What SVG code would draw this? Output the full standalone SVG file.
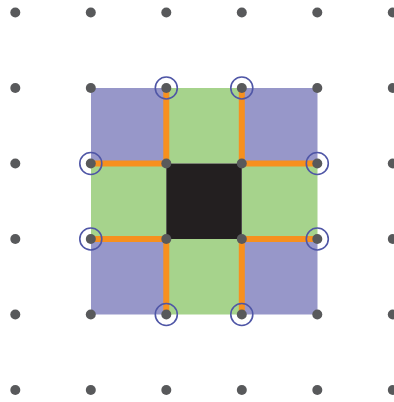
<svg xmlns="http://www.w3.org/2000/svg" width="394" height="402" viewBox="0 0 394 402">
<style>
.p{fill:#9797c9}.g{fill:#a6d38c}.k{fill:#231f20}
.d{fill:#58595b}
.c{fill:none;stroke:#4f56a6;stroke-width:1.6}
.o{stroke:#f7901e;stroke-width:6;fill:none}
</style>
<rect width="394" height="402" fill="#ffffff"/>
<g id="tiles">
<rect class="p" x="91" y="88" width="75.5" height="75.5"/>
<rect class="g" x="166.5" y="88" width="75.5" height="75.5"/>
<rect class="p" x="242" y="88" width="75.5" height="75.5"/>
<rect class="g" x="91" y="163.5" width="75.5" height="75.5"/>
<rect class="g" x="242" y="163.5" width="75.5" height="75.5"/>
<rect class="p" x="91" y="239" width="75.5" height="75.5"/>
<rect class="g" x="166.5" y="239" width="75.5" height="75.5"/>
<rect class="p" x="242" y="239" width="75.5" height="75.5"/>
</g>
<g id="center"><rect class="k" x="166.3" y="163.5" width="75.5" height="75.5"/></g>
<g id="connectors">
<path class="o" d="M166.3 88V163.5H91"/>
<path class="o" d="M241.8 88V163.5H317.5"/>
<path class="o" d="M166.3 314.5V239H91"/>
<path class="o" d="M241.8 314.5V239H317.5"/>
</g>
<g id="dots">
<circle class="d" cx="15.3" cy="12.5" r="5"/><circle class="d" cx="90.8" cy="12.5" r="5"/><circle class="d" cx="166.3" cy="12.5" r="5"/><circle class="d" cx="241.8" cy="12.5" r="5"/><circle class="d" cx="317.3" cy="12.5" r="5"/><circle class="d" cx="392.8" cy="12.5" r="5"/>
<circle class="d" cx="15.3" cy="88" r="5"/><circle class="d" cx="90.8" cy="88" r="5"/><circle class="d" cx="166.3" cy="88" r="5"/><circle class="d" cx="241.8" cy="88" r="5"/><circle class="d" cx="317.3" cy="88" r="5"/><circle class="d" cx="392.8" cy="88" r="5"/>
<circle class="d" cx="15.3" cy="163.5" r="5"/><circle class="d" cx="90.8" cy="163.5" r="5"/><circle class="d" cx="166.3" cy="163.5" r="5"/><circle class="d" cx="241.8" cy="163.5" r="5"/><circle class="d" cx="317.3" cy="163.5" r="5"/><circle class="d" cx="392.8" cy="163.5" r="5"/>
<circle class="d" cx="15.3" cy="239" r="5"/><circle class="d" cx="90.8" cy="239" r="5"/><circle class="d" cx="166.3" cy="239" r="5"/><circle class="d" cx="241.8" cy="239" r="5"/><circle class="d" cx="317.3" cy="239" r="5"/><circle class="d" cx="392.8" cy="239" r="5"/>
<circle class="d" cx="15.3" cy="314.5" r="5"/><circle class="d" cx="90.8" cy="314.5" r="5"/><circle class="d" cx="166.3" cy="314.5" r="5"/><circle class="d" cx="241.8" cy="314.5" r="5"/><circle class="d" cx="317.3" cy="314.5" r="5"/><circle class="d" cx="392.8" cy="314.5" r="5"/>
<circle class="d" cx="15.3" cy="390" r="5"/><circle class="d" cx="90.8" cy="390" r="5"/><circle class="d" cx="166.3" cy="390" r="5"/><circle class="d" cx="241.8" cy="390" r="5"/><circle class="d" cx="317.3" cy="390" r="5"/><circle class="d" cx="392.8" cy="390" r="5"/>
</g>
<g id="rings">
<circle class="c" cx="166.3" cy="88" r="11"/><circle class="c" cx="241.8" cy="88" r="11"/>
<circle class="c" cx="90.8" cy="163.5" r="11"/><circle class="c" cx="317.3" cy="163.5" r="11"/>
<circle class="c" cx="90.8" cy="239" r="11"/><circle class="c" cx="317.3" cy="239" r="11"/>
<circle class="c" cx="166.3" cy="314.5" r="11"/><circle class="c" cx="241.8" cy="314.5" r="11"/>
</g>
</svg>
